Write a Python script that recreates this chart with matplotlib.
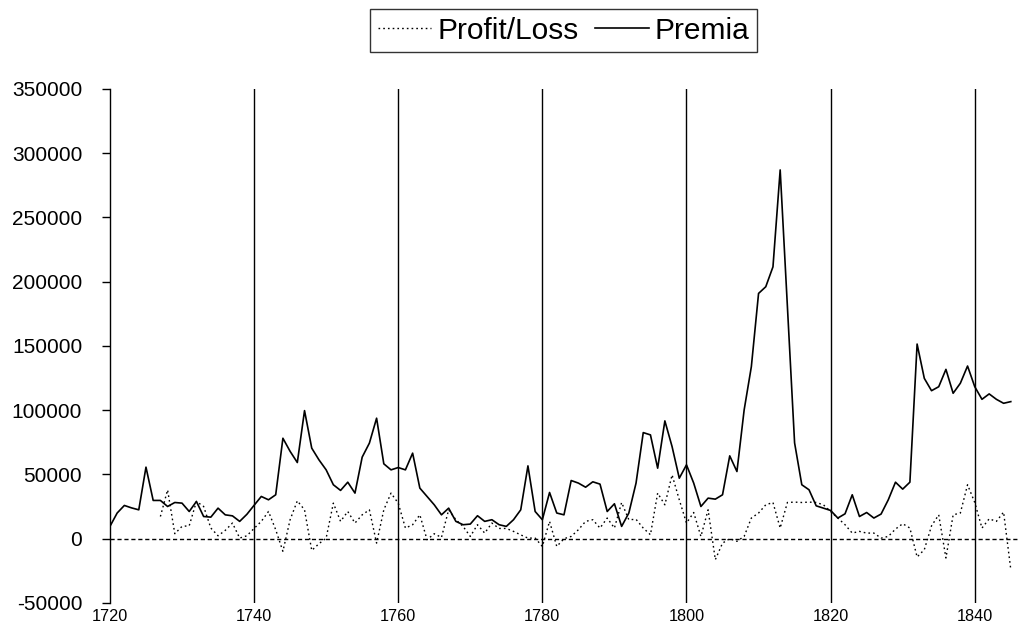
import numpy as np
import matplotlib
matplotlib.use("Agg")
import matplotlib.pyplot as plt

plt.rcParams['font.family'] = ['Liberation Sans', 'DejaVu Sans']

years = list(range(1720, 1846))

premia = [
    9600, 20000, 25900, 24000, 22500, 55700, 29800, 29800, 25100, 28200,   # 1720-1729
    27700, 21200, 29000, 17300, 16800, 23800, 18600, 17800, 13500, 19000,  # 1730-1739
    26000, 32900, 30300, 34200, 78200, 68000, 59300, 99700, 70500, 61400,  # 1740-1749
    53600, 42000, 37600, 44000, 35500, 63500, 74400, 93800, 58300, 53600,  # 1750-1759
    55400, 53600, 66600, 39400, 32900, 26400, 18600, 23800, 13500, 10900,  # 1760-1769
    11400, 17900, 13500, 14800, 10900, 9600, 14800, 22500, 56700, 21200,   # 1770-1779
    14800, 36000, 20000, 18600, 45300, 43300, 40100, 44300, 42500, 21200,  # 1780-1789
    27200, 9600, 20000, 43300, 82600, 80800, 54900, 91700, 71700, 47100,   # 1790-1799
    57500, 43300, 25100, 31600, 30800, 34200, 64500, 52300, 100200, 133900,  # 1800-1809
    190900, 196100, 211600, 287000, 181000, 74600, 42000, 38100, 25600, 23800,  # 1810-1819
    22000, 16100, 19400, 34200, 17300, 20400, 16100, 19200, 30300, 44000,  # 1820-1829
    38600, 44000, 151500, 124800, 115200, 118300, 131800, 113200, 121000, 134400,  # 1830-1839
    118300, 108500, 112700, 108500, 105400, 106700,                        # 1840-1845
]

profit_loss = [
    np.nan, np.nan, np.nan, np.nan, np.nan, np.nan, np.nan, 17300, 38000, 3900,  # 1720-1729
    9600, 10100, 29000, 25100, 8300, 2300, 6500, 12200, 500, 2300,        # 1730-1739
    8000, 13500, 21200, 7000, -9800, 14800, 29500, 22500, -9100, -3900,   # 1740-1749
    500, 27700, 13500, 21200, 12200, 18600, 22500, -3400, 22500, 35500,   # 1750-1759
    27700, 8300, 10900, 18600, -800, 3900, 1000, 22500, 14800, 9600,      # 1760-1769
    1800, 10900, 4400, 12200, 8000, 8000, 5700, 3000, 500, 500,           # 1770-1779
    -6000, 13500, -6000, 0, 1800, 7000, 13500, 14800, 8300, 16100,        # 1780-1789
    8300, 28200, 14800, 15100, 8300, 3100, 35500, 26400, 49700, 30300,    # 1790-1799
    12200, 20400, 1800, 22500, -16300, -3400, 0, -2000, 1800, 16100,      # 1800-1809
    20000, 26400, 28200, 8300, 28200, 28500, 28200, 28500, 28200, 26400,  # 1810-1819
    21200, 16100, 10900, 4400, 5700, 4400, 4400, 500, 1800, 7500,         # 1820-1829
    11700, 8300, -14200, -8500, 10000, 18600, -15000, 18600, 20000, 42000,  # 1830-1839
    28200, 8300, 15500, 13500, 20700, -24000,                             # 1840-1845
]

y_ticks = list(range(-50000, 350001, 50000))
x_ticks = [1720, 1740, 1760, 1780, 1800, 1820, 1840]

fig = plt.figure(figsize=(10.18, 6.31), dpi=100)
ax = fig.add_axes([0.108, 0.0444, 0.892, 0.8146])

# vertical gridlines
for xv in x_ticks[1:]:
    ax.axvline(xv, color='black', lw=1.0, zorder=1)
# category axis at zero (dashed)
ax.axhline(0, color='black', lw=1.0, linestyle=(0, (3, 2)), zorder=1)

l1, = ax.plot(years, profit_loss, color='black', lw=1.0, linestyle=(0, (1.2, 2.2)),
              label='Profit/Loss', zorder=3)
l2, = ax.plot(years, premia, color='black', lw=1.2, linestyle='-', label='Premia', zorder=3)

ax.set_xlim(1720, 1846)
ax.set_ylim(-50000, 350000)

for s in ['top', 'right', 'bottom']:
    ax.spines[s].set_visible(False)
ax.spines['left'].set_linewidth(1.0)
ax.spines['left'].set_color('black')

ax.set_yticks(y_ticks)
ax.set_yticklabels([str(v) for v in y_ticks], fontsize=15)
ax.tick_params(axis='y', direction='out', length=6, width=1, pad=14, colors='black')

ax.set_xticks(x_ticks)
ax.set_xticklabels([str(v) for v in x_ticks], fontsize=11.7)
ax.tick_params(axis='x', length=0, pad=4, colors='black')

leg = fig.legend(handles=[l1, l2], labels=['Profit/Loss', 'Premia'],
                 loc='center', bbox_to_anchor=(0.5535, 0.951), bbox_transform=fig.transFigure,
                 ncol=2, fontsize=21.5, frameon=True, fancybox=False,
                 handlelength=1.8, handletextpad=0.2, columnspacing=0.55,
                 borderpad=0.25, borderaxespad=0.0)
leg.get_frame().set_edgecolor('black')
leg.get_frame().set_linewidth(1.0)

fig.savefig('out.png', dpi=100, facecolor='white')
